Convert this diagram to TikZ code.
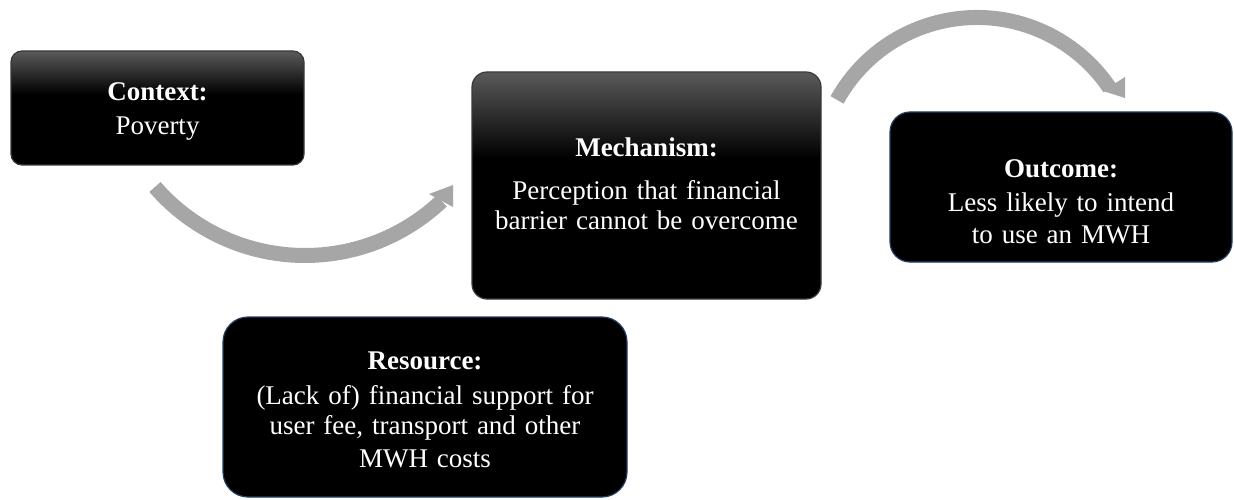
\documentclass[tikz,border=0pt]{standalone}
\usepackage{fontspec}
\setmainfont{Liberation Serif}
\usetikzlibrary{calc}
\definecolor{arrowgray}{HTML}{A6A6A6}
\definecolor{edgeblue}{HTML}{243F60}
\definecolor{glowgray}{HTML}{5A5A5A}
\definecolor{edgegray}{HTML}{3A3A3A}
\pgfdeclareverticalshading{topglow}{100bp}{color(0bp)=(black); color(25bp)=(black); color(56bp)=(black); color(75bp)=(glowgray); color(100bp)=(glowgray)}
\newcommand{\boxlabelfont}{\fontsize{27}{30}\selectfont\spaceskip=0.33em plus 0.1em minus 0.05em\relax}
\begin{document}
\begin{tikzpicture}[x=1pt,y=1pt,
  glowbox/.style={draw=edgegray, line width=1.2pt, shade, shading=topglow},
  plainbox/.style={draw=edgeblue, line width=1.2pt, fill=black},
  lbl/.style={text=white, align=center, font=\boxlabelfont},
  shaft/.style={draw=arrowgray, line width=15pt},
  headtip/.style={fill=arrowgray}]
\useasboundingbox (0,0) rectangle (1234,499);

% boxes
\node[glowbox, rounded corners=11pt, minimum width=293pt, minimum height=114pt] (ctx) at (157.5,391) {};
\node[glowbox, rounded corners=15pt, minimum width=349pt, minimum height=227pt] (mech) at (646.5,313.5) {};
\node[plainbox, rounded corners=20pt, minimum width=342pt, minimum height=150pt] (out) at (1061,312) {};
\node[plainbox, rounded corners=25pt, minimum width=404pt, minimum height=180pt] (res) at (425,92) {};

% texts
\node[lbl] (ctxT) at ([yshift=-3pt]ctx.center) {\textbf{Context:}\\[4pt]Poverty};
\node[lbl] (mechT) at ([yshift=2pt]mech.center) {\textbf{Mechanism:}\\[13pt]Perception that financial\\barrier cannot be overcome};
\node[lbl] (outT) at ([yshift=-15pt]out.center) {\textbf{Outcome:}\\[4pt]Less likely to intend\\[2pt]to use an MWH};
\node[lbl] (resT) at ([yshift=-3pt]res.center) {\textbf{Resource:}\\[5pt](Lack of) financial support for\\user fee, transport and other\\[3pt]MWH costs};

% arrow 1: context -> mechanism
\coordinate (a1s) at ($(305,442)+(220.9:198.5)$);
\draw[shaft] (a1s) arc[start angle=220.9, end angle=313.5, radius=198.5] coordinate (a1e);
\fill[headtip] (429,305) -- (453,314) -- (453,292) -- cycle;

% arrow 2: mechanism -> outcome
\coordinate (a2s) at ($(977,321.5)+(151:160)$);
\draw[shaft] (a2s) arc[start angle=151, end angle=34, radius=160] coordinate (a2e);
\fill[headtip] (1103,408) -- (1125,422) -- (1125,401) -- cycle;
\end{tikzpicture}
\end{document}
